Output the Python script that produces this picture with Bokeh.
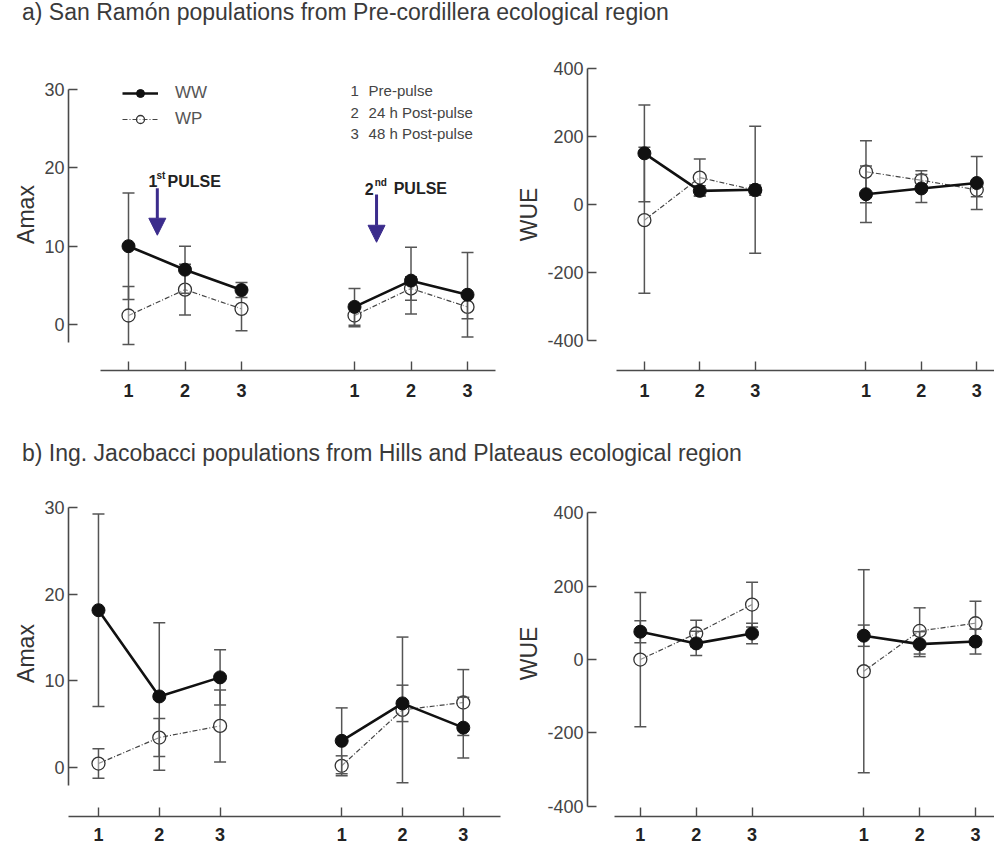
from bokeh.plotting import figure
from bokeh.layouts import column, row
from bokeh.models import (Range1d, FixedTicker, Div, Legend, LegendItem, Arrow,
                          NormalHead, ColumnDataSource)
from bokeh.core.properties import value
from bokeh.embed import file_html
from bokeh.resources import INLINE

# ---------------- data ----------------
time_labels = ["1", "2", "3"]
pulse_names = [("1", "st"), ("2", "nd")]
note_texts = ["Pre-pulse", "24 h Post-pulse", "48 h Post-pulse"]
series_names = ["WW", "WP"]

# order: pulse 1 (t1,t2,t3), pulse 2 (t1,t2,t3)
amax_a_ww = [10.0, 7.0, 4.4, 2.25, 5.6, 3.8]
amax_a_ww_err = [6.8, 3.0, 0.95, 2.35, 4.25, 5.4]
amax_a_wp = [1.15, 4.45, 2.0, 1.15, 4.6, 2.25]
amax_a_wp_err = [3.7, 3.25, 2.8, 1.45, 1.5, 1.5]

wue_a_ww = [150, 40, 43, 30, 47, 63]
wue_a_ww_err = [142, 15, 186, 83, 41, 78]
wue_a_wp = [-46, 79, 42, 96, 71, 43]
wue_a_wp_err = [214, 54, 15, 91, 28, 20]

amax_b_ww = [18.15, 8.2, 10.4, 3.08, 7.4, 4.6]
amax_b_ww_err = [11.1, 8.5, 3.2, 3.8, 2.1, 3.5]
amax_b_wp = [0.46, 3.46, 4.8, 0.2, 6.65, 7.5]
amax_b_wp_err = [1.7, 2.2, 4.15, 1.15, 8.4, 3.8]

wue_b_ww = [76, 44, 71, 65, 42, 49]
wue_b_ww_err = [30, 33, 28, 29, 34, 34]
wue_b_wp = [0, 71, 150, -32, 78, 99]
wue_b_wp_err = [183, 36, 61, 277, 63, 60]

titles = ["a) San Ramón populations from Pre-cordillera ecological region",
          "b) Ing. Jacobacci populations from Hills and Plateaus ecological region"]

amax_ticks = [0, 10, 20, 30]
wue_ticks = [-400, -200, 0, 200, 400]

# x positions: groups of 3 time points separated by one empty slot
n_t = len(time_labels)
xpos = [g * (n_t + 1) + t + 1 for g in range(len(pulse_names)) for t in range(n_t)]
xlabels = {x: time_labels[i % n_t] for i, x in enumerate(xpos)}

FONT = "Liberation Sans"
ERR = "#555555"
AX = "#4a4a4a"
PURPLE = "#3b2c8c"


def make_panel(width, height, mbl, mbt, mbb, xr, xb, yr, yb, yticks, ylabel, lab_standoff):
    p = figure(width=width, height=height, output_backend="svg", toolbar_location=None,
               x_range=Range1d(*xr), y_range=Range1d(*yr),
               min_border_left=mbl, min_border_right=0, min_border_top=mbt,
               min_border_bottom=mbb, outline_line_color=None, background_fill_color="white")
    p.xgrid.visible = False
    p.ygrid.visible = False
    xa = p.xaxis[0]
    xa.ticker = FixedTicker(ticks=xpos)
    xa.major_label_overrides = xlabels
    xa.bounds = xb
    xa.major_tick_in = 9
    xa.major_tick_out = 0
    xa.minor_tick_line_color = None
    xa.axis_line_color = AX
    xa.axis_line_width = 1.6
    xa.major_tick_line_color = AX
    xa.major_tick_line_width = 1.4
    xa.major_label_text_font = FONT
    xa.major_label_text_font_size = "18px"
    xa.major_label_text_font_style = "bold"
    xa.major_label_text_color = "#222222"
    xa.major_label_standoff = lab_standoff
    ya = p.yaxis[0]
    ya.ticker = FixedTicker(ticks=yticks)
    ya.major_label_overrides = {t: str(t) for t in yticks}
    ya.bounds = yb
    ya.major_tick_in = 9
    ya.major_tick_out = 0
    ya.minor_tick_line_color = None
    ya.axis_line_color = AX
    ya.axis_line_width = 1.6
    ya.major_tick_line_color = AX
    ya.major_tick_line_width = 1.4
    ya.major_label_text_font = FONT
    ya.major_label_text_font_size = "18px"
    ya.major_label_text_color = "#444444"
    ya.major_label_standoff = 4
    ya.axis_label = ylabel
    ya.axis_label_text_font = FONT
    ya.axis_label_text_font_size = "23px"
    ya.axis_label_text_font_style = "normal"
    ya.axis_label_text_color = "#333333"
    ya.axis_label_standoff = 2
    return p


def draw_series(p, vals, errs, filled):
    lo = [v - e for v, e in zip(vals, errs)]
    hi = [v + e for v, e in zip(vals, errs)]
    src = ColumnDataSource(dict(x=xpos, v=vals, lo=lo, hi=hi))
    p.segment("x", "lo", "x", "hi", source=src, line_color=ERR, line_width=1.5)
    p.scatter("x", "lo", source=src, marker="dash", size=12, line_color=ERR, line_width=1.5)
    p.scatter("x", "hi", source=src, marker="dash", size=12, line_color=ERR, line_width=1.5)
    xs = [xpos[g * n_t:(g + 1) * n_t] for g in range(len(pulse_names))]
    ys = [vals[g * n_t:(g + 1) * n_t] for g in range(len(pulse_names))]
    if filled:
        ml = p.multi_line(xs, ys, line_color="#111111", line_width=2.6)
        sc = p.scatter("x", "v", source=src, marker="circle", size=13,
                       fill_color="#111111", line_color="#111111", line_width=1)
    else:
        ml = p.multi_line(xs, ys, line_color="#444444", line_width=1.2, line_dash="5 2 1 2")
        sc = p.scatter("x", "v", source=src, marker="circle", size=13,
                       fill_color="white", fill_alpha=0.4, line_color="#333333", line_width=1.3)
    return ml, sc


def underline(text, word):
    return text.replace(word,
                        '<span style="border-bottom:1px dotted #555;padding-bottom:3px;'
                        'margin-left:-8px;padding-left:8px">' + word + '</span>')


# ---------------- layout constants ----------------
W1, W2 = 513, 481
H1, H2 = 406, 384

# top row
p1 = make_panel(W1, H1, 68, 24, 70, (-0.062, 7.814), (0.5, 7.5), (-5.87, 33.96), (-2.3, 30),
                amax_ticks, "Amax", 13)
p2 = make_panel(W2, H1, 73, 24, 70, (-0.027, 7.32), (0.5, 7.32), (-486.8, 428.0), (-400, 400),
                wue_ticks, "WUE", 13)
# bottom row
p3 = make_panel(W1, H2, 68, 24, 34, (0.507, 7.826), (0.507, 7.62), (-5.65, 31.96), (-2.1, 30),
                amax_ticks, "Amax", 11)
p4 = make_panel(W2, H2, 73, 24, 34, (0.054, 7.34), (0.536, 7.34), (-428.1, 461.0), (-400, 400),
                wue_ticks, "WUE", 11)

handles = {}
for p, (ww, wwe, wp, wpe) in [(p1, (amax_a_ww, amax_a_ww_err, amax_a_wp, amax_a_wp_err)),
                              (p2, (wue_a_ww, wue_a_ww_err, wue_a_wp, wue_a_wp_err)),
                              (p3, (amax_b_ww, amax_b_ww_err, amax_b_wp, amax_b_wp_err)),
                              (p4, (wue_b_ww, wue_b_ww_err, wue_b_wp, wue_b_wp_err))]:
    h_wp = draw_series(p, wp, wpe, False)
    h_ww = draw_series(p, ww, wwe, True)
    if p is p1:
        handles["WW"] = h_ww
        handles["WP"] = h_wp

# legend (top-left panel)
leg = Legend(items=[LegendItem(label=n, renderers=list(handles[n])) for n in series_names],
             location=(54, 241), orientation="vertical", background_fill_alpha=0,
             border_line_color=None, glyph_width=36, glyph_height=20, label_height=20,
             spacing=6, padding=0, margin=0, label_standoff=17,
             label_text_font=FONT, label_text_font_size="17px", label_text_color="#555555")
p1.add_layout(leg)

# time-point notes
note_x = 4.93
note_y = [29.87, 27.06, 24.38]
p1.text(x=[note_x] * n_t, y=note_y, text=time_labels, text_font=value(FONT),
        text_font_size="15px", text_color="#444444", text_baseline="middle", text_align="left")
p1.text(x=[note_x] * n_t, y=note_y, text=note_texts, text_font=value(FONT),
        text_font_size="15px", text_color="#444444", text_baseline="middle", text_align="left",
        x_offset=18)

# pulse labels and arrows
pulse_text_xy = [(1.354, 18.26), (5.18, 17.36)]
sup_offset = [8, 10]
pulse_word_offset = [19, 29]
arrow_xy = [(1.51, 17.4, 11.4), (5.39, 16.6, 10.5)]
for (num, sup), (tx, ty), so, off, (ax, ay0, ay1) in zip(pulse_names, pulse_text_xy, sup_offset,
                                                         pulse_word_offset, arrow_xy):
    p1.text(x=[tx], y=[ty], text=[num], text_font=value(FONT), text_font_style="bold",
            text_font_size="16px", text_color="#222222", text_baseline="alphabetic")
    p1.text(x=[tx], y=[ty], text=[sup], text_font=value(FONT), text_font_style="bold",
            text_font_size="10px", text_color="#222222", text_baseline="alphabetic",
            x_offset=so, y_offset=-6)
    p1.text(x=[tx], y=[ty], text=["PULSE"], text_font=value(FONT), text_font_style="bold",
            text_font_size="16px", text_color="#222222", text_baseline="alphabetic",
            x_offset=off)
    p1.add_layout(Arrow(end=NormalHead(size=17, fill_color=PURPLE, line_color=PURPLE),
                        x_start=ax, y_start=ay0, x_end=ax, y_end=ay1,
                        line_color=PURPLE, line_width=3))

STYLE = ("font-family:'Liberation Sans',Arial,sans-serif;font-size:23px;color:#3a3a3a;"
         "white-space:nowrap;padding-left:22px;")
divA = Div(text='<div style="' + STYLE + 'line-height:24px;">' + titles[0] + '</div>',
           width=W1 + W2, height=34, margin=(0, 0, 0, 0))
divB = Div(text='<div style="' + STYLE + 'line-height:26px;">' + underline(titles[1], "Jacobacci") + '</div>',
           width=W1 + W2, height=26, margin=(0, 0, 0, 0))

layout = column(divA, row(p1, p2, spacing=0), divB, row(p3, p4, spacing=0), spacing=0)

open("out.html", "w").write(file_html(layout, INLINE))
